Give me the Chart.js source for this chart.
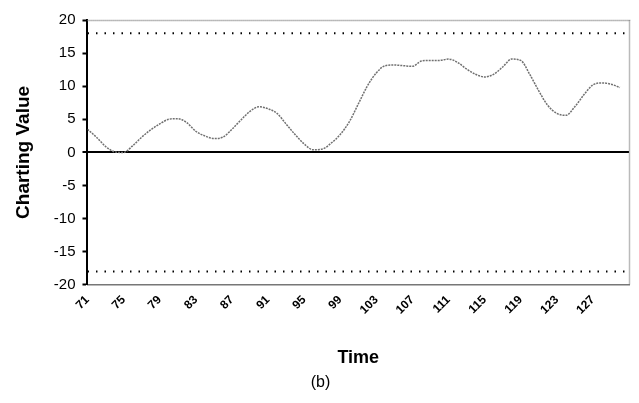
<!DOCTYPE html>
<html>
<head>
<meta charset="utf-8">
<script src="https://cdn.jsdelivr.net/npm/chart.js@4/dist/chart.umd.min.js"></script>
<style>
    html, body { margin: 0; padding: 0; background: #fff; }
    #wrap { width: 639px; height: 403px; }
</style>
</head>
<body>
<div id="wrap"><canvas id="chart" width="639" height="403"></canvas></div>
<script>
// Chart data
const times = [71, 72, 73, 74, 75, 76, 77, 78, 79, 80,
    81, 82, 83, 84, 85, 86, 87, 88, 89, 90,
    91, 92, 93, 94, 95, 96, 97, 98, 99, 100,
    101, 102, 103, 104, 105, 106, 107, 108, 109, 110,
    111, 112, 113, 114, 115, 116, 117, 118, 119, 120,
    121, 122, 123, 124, 125, 126, 127, 128, 129, 130];
const chartingValues = [3.5, 2.3, 0.9, 0.1, 0.0, 1.0, 2.3, 3.4, 4.3, 5.0,
    5.1, 4.5, 3.2, 2.5, 2.1, 2.3, 3.5, 4.9, 6.2, 6.9,
    6.6, 5.9, 4.3, 2.7, 1.3, 0.4, 0.5, 1.4, 2.7, 4.6,
    7.3, 10.0, 12.0, 13.1, 13.2, 13.1, 13.0, 13.8, 13.9, 13.9,
    14.1, 13.6, 12.6, 11.8, 11.4, 11.8, 12.9, 14.1, 13.9, 11.8,
    9.3, 7.1, 5.9, 5.6, 6.9, 8.7, 10.2, 10.5, 10.3, 9.8];
const upperLimit = 18;
const lowerLimit = -18;
const xTickLabels = [71, 75, 79, 83, 87, 91, 95, 99, 103, 107, 111, 115, 119, 123, 127];
const yTickLabels = [20, 15, 10, 5, 0, -5, -10, -15, -20];
const xRange = [71, 131];

const seriesPoints = times.map((t, i) => ({ x: t, y: chartingValues[i] }));
const limitLine = v => [{ x: xRange[0], y: v }, { x: xRange[1], y: v }];

// dotted frame on top and right of the plot area
const frameBorder = {
    id: 'frameBorder',
    afterDraw(chart) {
        const { ctx, chartArea: a } = chart;
        ctx.save();
        ctx.strokeStyle = '#777';
        ctx.lineWidth = 1.5;
        ctx.setLineDash([1, 1]);
        ctx.beginPath();
        ctx.moveTo(a.left, a.top + 0.5);
        ctx.lineTo(a.right + 0.5, a.top + 0.5);
        ctx.lineTo(a.right + 0.5, a.bottom);
        ctx.stroke();
        ctx.restore();
    }
};

const ctx = document.getElementById('chart').getContext('2d');
new Chart(ctx, {
    type: 'line',
    data: {
        datasets: [{
            label: 'Charting Value',
            data: seriesPoints,
            borderColor: '#707070',
            borderWidth: 1.5,
            borderDash: [2, 1],
            pointRadius: 0,
            tension: 0.4,
            cubicInterpolationMode: 'monotone'
        }, {
            label: 'Upper',
            data: limitLine(upperLimit),
            borderColor: '#000',
            borderWidth: 2,
            borderDash: [1.5, 7],
            pointRadius: 0
        }, {
            label: 'Lower',
            data: limitLine(lowerLimit),
            borderColor: '#000',
            borderWidth: 2,
            borderDash: [1.5, 7],
            pointRadius: 0
        }]
    },
    options: {
        responsive: false,
        animation: false,
        layout: { padding: { top: 20, right: 10, left: 12, bottom: 7 } },
        plugins: {
            legend: { display: false },
            tooltip: { enabled: false },
            title: {
                display: true,
                text: '(b)',
                position: 'bottom',
                color: '#000',
                font: { family: 'Liberation Sans, Arial', size: 16, weight: 'normal' },
                padding: { top: 2, bottom: 4 }
            }
        },
        scales: {
            x: {
                type: 'linear',
                min: xRange[0],
                max: xRange[1],
                afterBuildTicks: axis => {
                    axis.ticks = xTickLabels.map(v => ({ value: v }));
                },
                border: { display: true, color: '#777', width: 1.5, dash: [1, 1] },
                grid: { display: false, drawTicks: false },
                ticks: {
                    autoSkip: false,
                    minRotation: 45,
                    maxRotation: 45,
                    padding: 8,
                    color: '#000',
                    font: { family: 'Liberation Sans, Arial', size: 12, weight: 'bold' },
                    callback: v => String(v)
                },
                title: {
                    display: true,
                    text: 'Time',
                    color: '#000',
                    font: { family: 'Liberation Sans, Arial', size: 18, weight: 'bold' },
                    padding: { top: 22, bottom: 2 }
                }
            },
            y: {
                min: -20,
                max: 20,
                afterBuildTicks: axis => {
                    axis.ticks = yTickLabels.map(v => ({ value: v }));
                },
                border: { display: true, color: '#000', width: 2 },
                grid: {
                    drawOnChartArea: true,
                    color: c => (c.tick && c.tick.value === 0 ? '#000' : 'rgba(0,0,0,0)'),
                    lineWidth: c => (c.tick && c.tick.value === 0 ? 2 : 1),
                    tickColor: '#000',
                    tickLength: 5,
                    tickWidth: 2
                },
                ticks: {
                    padding: 7,
                    color: '#000',
                    font: { family: 'Liberation Sans, Arial', size: 15 }
                },
                title: {
                    display: true,
                    text: 'Charting Value',
                    color: '#000',
                    font: { family: 'Liberation Sans, Arial', size: 19, weight: 'bold' },
                    padding: { top: 0, bottom: 12 }
                }
            }
        }
    },
    plugins: [frameBorder]
});
</script>
</body>
</html>
